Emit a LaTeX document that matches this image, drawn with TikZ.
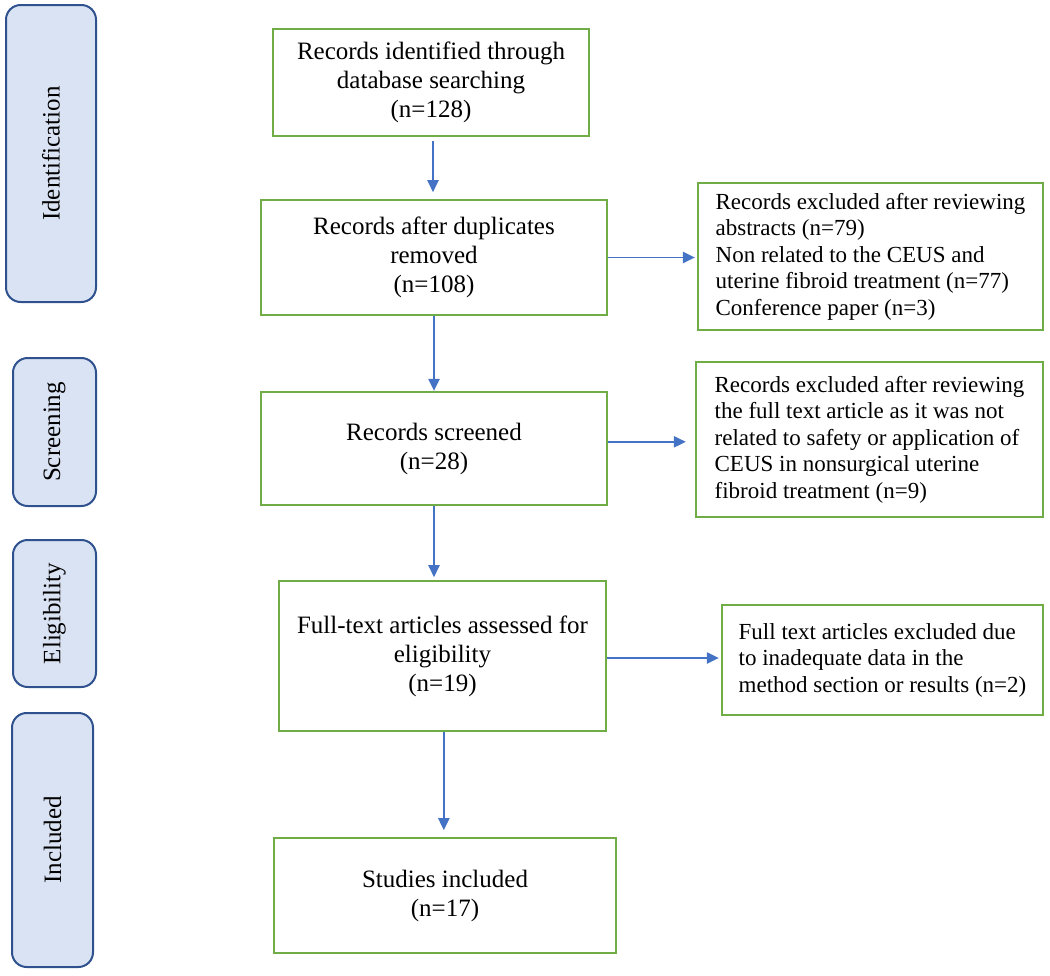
\documentclass[tikz,border=0pt]{standalone}
\usepackage{fontspec}
\setmainfont{Liberation Serif}
\usetikzlibrary{arrows.meta}
\definecolor{boxgreen}{RGB}{112,173,71}
\definecolor{arrblue}{RGB}{68,114,196}
\definecolor{phasefill}{RGB}{218,227,243}
\definecolor{phaseline}{RGB}{47,82,143}
\tikzset{
  mainbox/.style={draw=boxgreen, line width=1.8pt, fill=white, inner sep=0pt, align=center,
    font=\fontsize{18.75pt}{21.75pt}\selectfont},
  sidebox/.style={draw=boxgreen, line width=1.8pt, fill=white, inner sep=0pt, align=left,
    font=\fontsize{17.25pt}{19.9pt}\selectfont},
  phase/.style={draw=phaseline, line width=1.5pt, fill=phasefill, rounded corners=11pt,
    inner sep=0pt, rotate=90, font=\fontsize{18.75pt}{21.75pt}\selectfont},
  arr/.style={draw=arrblue, line width=1pt, -{Triangle[length=9pt,width=8.5pt]}, arrblue}
}
\begin{document}
\begin{tikzpicture}[x=0.75pt,y=-0.75pt]
\useasboundingbox (0,0) rectangle (1050,975);
% phase labels
\node[phase, minimum width=222.75pt, minimum height=67.5pt] (ph1) at (51,153.5) {Identification};
\node[phase, minimum width=111pt, minimum height=62.25pt] (ph2) at (54.5,432) {Screening};
\node[phase, minimum width=110.25pt, minimum height=62.25pt] (ph3) at (54.5,613.5) {Eligibility};
\node[phase, minimum width=190.5pt, minimum height=60.75pt] (ph4) at (52.5,840) {Included};
% main boxes
\node[mainbox, minimum width=237pt, minimum height=80.25pt] (b1) at (431,82.5)
  {Records identified through\\database searching\\(n=128)};
\node[mainbox, minimum width=259.5pt, minimum height=86.25pt] (b2) at (434,257.5)
  {Records after duplicates\\removed\\(n=108)};
\node[mainbox, minimum width=259.5pt, minimum height=84.75pt] (b3) at (434,448.5)
  {Records screened\\(n=28)};
\node[mainbox, minimum width=245.25pt, minimum height=112.5pt] (b4) at (442.5,656)
  {Full-text articles assessed for\\eligibility\\(n=19)};
\node[mainbox, minimum width=256.5pt, minimum height=86.25pt] (b5) at (445,895.5)
  {Studies included\\(n=17)};
% side boxes
\node[sidebox, minimum width=258.75pt, minimum height=110.25pt] (r1) at (870.5,256.5)
  {Records excluded after reviewing\\abstracts (n=79)\\Non related to the CEUS and\\uterine fibroid treatment (n=77)\\Conference paper (n=3)};
\node[sidebox, minimum width=260.25pt, minimum height=116.25pt] (r2) at (869.5,439.5)
  {Records excluded after reviewing\\the full text article as it was not\\related to safety or application of\\CEUS in nonsurgical uterine\\fibroid treatment (n=9)};
\node[sidebox, minimum width=240.75pt, minimum height=82.5pt] (r3) at (882.5,660)
  {Full text articles excluded due\\to inadequate data in the\\method section or results (n=2)};
% connectors
\draw[arr, shorten <=3pt, shorten >=5pt] ([xshift=1.5pt]b1.south) -- ([xshift=1.5pt]b1.south |- b2.north);
\draw[arr] (b2.south) -- (b3.north);
\draw[arr, shorten >=2pt] ([xshift=0pt]b3.south) -- (b3.south |- b4.north);
\draw[arr, shorten >=5pt] ([xshift=1pt]b4.south) -- ([xshift=1pt]b4.south |- b5.north);
\draw[arr, shorten >=1.5pt] (b2.east) -- (b2.east -| r1.west);
\draw[arr, shorten >=6.75pt] ([yshift=5pt]b3.east) -- ([yshift=5pt]b3.east -| r2.west);
\draw[arr, shorten >=1.5pt] ([yshift=-1.5pt]b4.east) -- ([yshift=-1.5pt]b4.east -| r3.west);
\end{tikzpicture}
\end{document}
